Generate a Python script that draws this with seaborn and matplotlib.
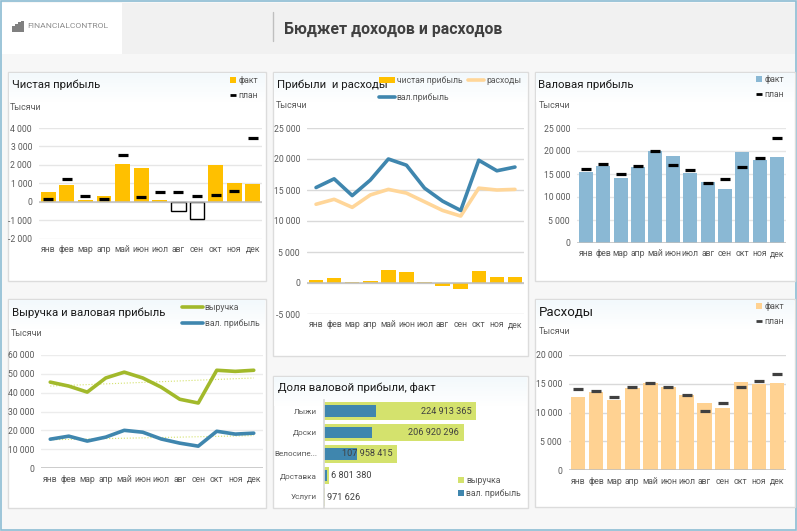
#!/usr/bin/env python3
"""Budget dashboard: income and expenses by month."""

import numpy as np
import matplotlib
matplotlib.use("Agg")
import matplotlib.pyplot as plt
import matplotlib.ticker as mticker
from matplotlib.lines import Line2D
from matplotlib.patches import Patch, Rectangle
import seaborn as sns

# ── Data ───────────────────────────────────────────────────────────────────

months = ["янв", "фев", "мар", "апр", "май", "июн", "июл", "авг", "сен", "окт", "ноя", "дек"]

net_fact = [550, 880, 80, 320, 2070, 1850, 80, -500, -950, 2000, 1030, 980]
net_plan = [150, 1230, 290, 150, 2560, 280, 550, 500, 330, 380, 560, 3430]
net_bars = [550, 850, 200, 350, 2150, 1850, 200, -450, -950, 2000, 1030, 980]

gross_fact = [15400, 16800, 14100, 16600, 20000, 19000, 15300, 13200, 11700, 19800, 18100, 18700]
gross_plan = [16000, 17100, 15100, 16700, 19900, 16900, 15800, 13000, 14000, 16600, 18400, 22800]

exp_fact = [12700, 13500, 12200, 14200, 15100, 14500, 13100, 11700, 10800, 15300, 15000, 15100]
exp_plan = [14100, 13800, 12700, 14400, 15100, 14500, 13000, 10300, 11600, 14400, 15400, 16700]

revenue = [45600, 43500, 40300, 47800, 50900, 47800, 42900, 36500, 34500, 51900, 51300, 51900]
gross_line = [15300, 16900, 14300, 16400, 20000, 19000, 15400, 13200, 11600, 19500, 18000, 18500]
trend_months = ["янв", "дек"]
revenue_trend = [43500, 47800]
gross_trend = [15000, 17200]

products = ["Лыжи", "Доски", "Велосипе...", "Доставка", "Услуги"]
product_revenue = [224913365, 206920296, 107958415, 6801380, 971626]
product_gross = [77000000, 71000000, 49000000, 4400000, 500000]
product_labels = ["224 913 365", "206 920 296", "107 958 415", "6 801 380", "971 626"]

# ── Style ──────────────────────────────────────────────────────────────────

YELLOW = "#FFC000"
PEACH = "#FFD292"
BLUE = "#3F86AE"
LIGHT_BLUE = "#8AB8D4"
GREEN = "#A2B92B"
PALE_GREEN = "#D4E26D"
TEXT = "#595959"

W, H = 797, 531

sns.set_theme(style="white")
plt.rcParams["font.family"] = ["Roboto", "DejaVu Sans"]

fig = plt.figure(figsize=(W / 100, H / 100), dpi=100, facecolor="#f7f7f7")

# Background layer in pixel coordinates, for the cards and the header
bg = fig.add_axes([0, 0, 1, 1])
bg.set_axis_off()

GRAD = matplotlib.colors.LinearSegmentedColormap.from_list("g", ["#f3f9fc", "#ffffff"])


def card(x0, y0, x1, y1):
    bg.add_patch(Rectangle((x0, y0), x1 - x0, y1 - y0, fc="white", ec="#dcdcdc", lw=1, zorder=1))
    grad = np.linspace(0, 1, 32).reshape(-1, 1)
    bg.imshow(grad, extent=(x0 + 1, x1 - 1, y0 + 30, y0 + 1), cmap=GRAD, aspect="auto", zorder=2)


bg.add_patch(Rectangle((1, 1), W - 2, H - 2, fc="#f7f7f7", ec="#8dbdd3", lw=1.2, zorder=0))
bg.add_patch(Rectangle((2.5, 2.5), W - 4, 51, fc="#f1f1f1", ec="none", zorder=0.5))
bg.add_patch(Rectangle((2.5, 2.5), 119.5, 51, fc="white", ec="none", zorder=0.6))
bg.plot([273.5, 273.5], [12, 41], color="#bfbfbf", lw=1, zorder=1)
bg.text(284, 29, "Бюджет доходов и расходов", fontsize=11.4, fontweight="bold",
        color="#404040", va="center", zorder=3)

# Logo: stair icon and wordmark
for sx, sy in [(12, 26), (15, 24), (18, 22), (21, 21)]:
    bg.add_patch(Rectangle((sx, sy), 3.2, 32 - sy, fc="#808080", ec="none", zorder=3))
bg.text(27, 26.5, "FINANCIALCONTROL", fontsize=6.1, color="#8c8c8c", va="center", zorder=3)

card(8, 72, 266, 281)
card(273, 72, 528, 356)
card(535, 72, 795, 281)
card(8, 299, 266, 508)
card(273, 376, 528, 508)
card(535, 299, 795, 507)

bg.set_xlim(0, W)
bg.set_ylim(H, 0)


def px_axes(x0, x1, y_top, y_bottom):
    """Axes placed by pixel box, top-left origin."""
    ax = fig.add_axes([x0 / W, 1 - y_bottom / H, (x1 - x0) / W, (y_bottom - y_top) / H])
    ax.patch.set_visible(False)
    return ax


def heading(x, y, title, unit_x, unit_y, size=8.2):
    bg.text(x, y, title, fontsize=size, color="#1a1a1a", va="center", zorder=3)
    if unit_x is not None:
        bg.text(unit_x, unit_y, "Тысячи", fontsize=6.4, color=TEXT, va="center", zorder=3)


def finish(ax, ymin, ymax, step, grid="#e6e6e6", month_pad=4.6):
    ax.set_xlim(-0.5, 11.5)
    ax.set_ylim(ymin, ymax)
    ax.yaxis.set_major_locator(mticker.MultipleLocator(step))
    ax.yaxis.set_major_formatter(mticker.FuncFormatter(lambda v, _: f"{v:,.0f}".replace(",", " ")))
    ax.grid(axis="y", color=grid, lw=1)
    ax.set_axisbelow(True)
    ax.axhline(0, color="#bfbfbf", lw=1.1, zorder=1.5)
    ax.set_xlabel("")
    ax.set_ylabel("")
    ax.tick_params(axis="x", length=0, labelsize=6.2, labelcolor=TEXT, pad=month_pad)
    ax.tick_params(axis="y", length=0, labelsize=6.2, labelcolor=TEXT, pad=5)
    sns.despine(ax=ax, left=True, bottom=True)


def plan_marks(ax, values, color="black"):
    sns.scatterplot(x=months, y=values, ax=ax, marker="_", s=56, linewidth=2.3,
                    color=color, legend=False, zorder=4)


def small_legend(ax, handles, labels, x, y, ncol=1, spacing=0.7, columnspacing=0.7, handlelength=0.7):
    ax.legend(handles, labels, loc="upper left", bbox_to_anchor=(x / W, 1 - y / H),
              bbox_transform=fig.transFigure, frameon=False, ncol=ncol, fontsize=6.2,
              labelcolor=TEXT, borderpad=0, borderaxespad=0, labelspacing=spacing,
              handlelength=handlelength, handletextpad=0.25, columnspacing=columnspacing)


def fact_plan_handles(color, plan_color="black"):
    return [Patch(fc=color, ec="none"), Line2D([], [], color=plan_color, lw=2, solid_capstyle="butt")]


# ── Чистая прибыль ─────────────────────────────────────────────────────────

ax = px_axes(39, 262, 128, 238.5)
sns.barplot(x=months, y=net_fact, ax=ax, color=YELLOW, saturation=1, width=0.8, linewidth=0)
for bar in ax.patches:
    if bar.get_height() < 0:
        bar.set_facecolor("white")
        bar.set_edgecolor("black")
        bar.set_linewidth(1)
plan_marks(ax, net_plan)
finish(ax, -2000, 4000, 1000)
heading(12, 85, "Чистая прибыль", 10, 107)
small_legend(ax, fact_plan_handles(YELLOW), ["факт", "план"], 230, 76)

# ── Прибыли и расходы ──────────────────────────────────────────────────────

ax = px_axes(307, 524, 128, 314)
sns.barplot(x=months, y=net_bars, ax=ax, color=YELLOW, saturation=1, width=0.8, linewidth=0)
sns.lineplot(x=months, y=exp_fact, ax=ax, color="#FFD699", lw=2.6, sort=False, zorder=3)
sns.lineplot(x=months, y=gross_fact, ax=ax, color=BLUE, lw=2.6, sort=False, zorder=3)
finish(ax, -5000, 25000, 5000, grid="#d9d9d9")
heading(277, 85, "Прибыли  и расходы", 276, 105)
small_legend(
    ax,
    [Patch(fc=YELLOW, ec="none"), Line2D([], [], color=BLUE, lw=2.6),
     Line2D([], [], color="#FFD699", lw=2.6)],
    ["чистая прибыль", "вал.прибыль", "расходы"],
    379, 76, ncol=2, spacing=0.95, handlelength=1.8,
)

# ── Валовая прибыль ────────────────────────────────────────────────────────

ax = px_axes(577, 786, 128, 243)
sns.barplot(x=months, y=gross_fact, ax=ax, color=LIGHT_BLUE, saturation=1, width=0.8, linewidth=0)
plan_marks(ax, gross_plan)
finish(ax, 0, 25000, 5000)
heading(538, 85, "Валовая прибыль", 539, 105)
small_legend(ax, fact_plan_handles(LIGHT_BLUE), ["факт", "план"], 756, 75)

# ── Выручка и валовая прибыль ──────────────────────────────────────────────

ax = px_axes(41, 263, 355, 468)
sns.lineplot(x=months, y=revenue, ax=ax, color=GREEN, lw=2.6, sort=False, zorder=3)
sns.lineplot(x=months, y=gross_line, ax=ax, color=BLUE, lw=2.6, sort=False, zorder=3)
for trend in (revenue_trend, gross_trend):
    sns.lineplot(x=trend_months, y=trend, ax=ax, color=PALE_GREEN, lw=0.8, linestyle=":",
                 sort=False, zorder=2)
finish(ax, 0, 60000, 10000, grid="#ececec", month_pad=5)
heading(12, 313, "Выручка и валовая прибыль", 11, 333)
small_legend(ax, [Line2D([], [], color=GREEN, lw=2.6), Line2D([], [], color=BLUE, lw=2.6)],
             ["выручка", "вал. прибыль"], 182, 303, spacing=0.85, handlelength=2.4)

# ── Доля валовой прибыли, факт ─────────────────────────────────────────────

ax = px_axes(324, 500, 400.25, 507.75)
sns.barplot(x=product_revenue, y=products, ax=ax, color=PALE_GREEN, saturation=1, width=0.8, linewidth=0)
sns.barplot(x=product_gross, y=products, ax=ax, color=BLUE, saturation=1, width=0.52, linewidth=0)
ax.set_xlim(0, 176 * 224913365 / 152)
ax.set_ylim(4.5, -0.5)
ax.set_xlabel("")
ax.set_ylabel("")
ax.xaxis.set_visible(False)
ax.tick_params(axis="y", length=0, labelsize=5.9, labelcolor=TEXT, pad=5)
sns.despine(ax=ax, top=True, right=True, bottom=True)
ax.spines["left"].set_color("#d9d9d9")
for i, (value, label) in enumerate(zip(product_revenue, product_labels)):
    inside = value > 50000000
    ax.annotate(label, (value, i), xytext=(-3.5 if inside else 2, 0), textcoords="offset points",
                ha="right" if inside else "left", va="center", fontsize=6.6, color="#404040")
heading(278, 388, "Доля валовой прибыли, факт", None, None)
small_legend(ax, [Patch(fc=PALE_GREEN, ec="none"), Patch(fc=BLUE, ec="none")],
             ["выручка", "вал. прибыль"], 458, 476, spacing=0.5)

# ── Расходы ────────────────────────────────────────────────────────────────

ax = px_axes(569, 786, 355, 470)
sns.barplot(x=months, y=exp_fact, ax=ax, color=PEACH, saturation=1, width=0.8, linewidth=0)
plan_marks(ax, exp_plan, color="#404040")
finish(ax, 0, 20000, 5000, grid="#d9d9d9", month_pad=5)
heading(539, 312, "Расходы", 539, 332, size=9.5)
small_legend(ax, fact_plan_handles(PEACH, "#404040"), ["факт", "план"], 756, 302)

fig.savefig("out.png", dpi=100, facecolor=fig.get_facecolor())
